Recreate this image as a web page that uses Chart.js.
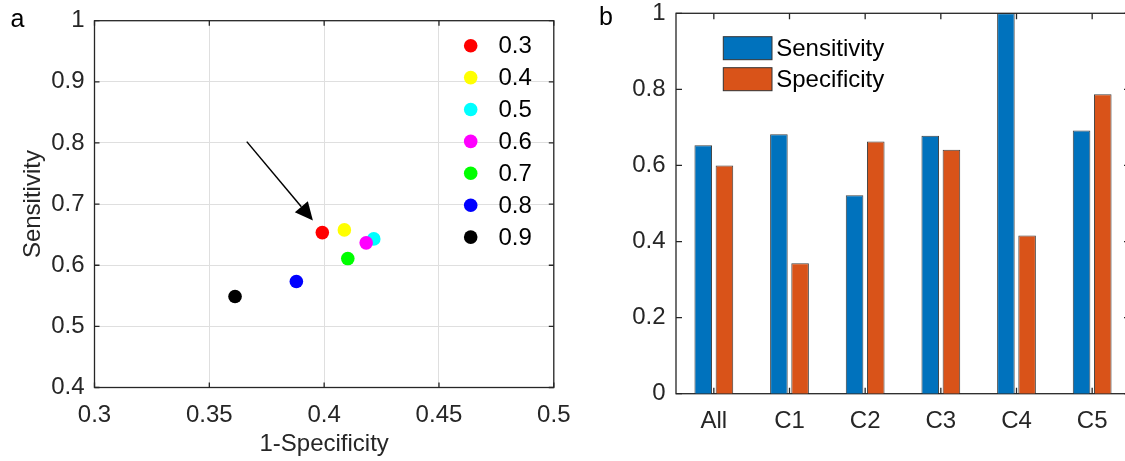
<!DOCTYPE html>
<html>
<head>
<meta charset="utf-8">
<script src="https://cdn.jsdelivr.net/npm/chart.js@4.4.1/dist/chart.umd.min.js"></script>
<style>
  html, body { margin: 0; padding: 0; background: #fff; width: 1125px; height: 461px; overflow: hidden; }
  #wrap { position: relative; width: 1125px; height: 461px; overflow: hidden; }
  canvas { position: absolute; top: 0; }
  #c1 { left: 0; }
  #c2 { left: 580px; }
</style>
</head>
<body>
<div id="wrap">
  <canvas id="c1" width="580" height="461"></canvas>
  <canvas id="c2" width="560" height="461"></canvas>
</div>
<script>
// ---------- Panel a data ----------
const thresholds = ['0.3', '0.4', '0.5', '0.6', '0.7', '0.8', '0.9'];
const oneMinusSpec = [0.3992, 0.4088, 0.4216, 0.4183, 0.4103, 0.3879, 0.3612];
const sensitivityA = [0.6534, 0.6578, 0.6431, 0.6366, 0.6109, 0.5733, 0.5488];
const pointColors = ['#ff0000', '#ffff00', '#00ffff', '#ff00ff', '#00ff00', '#0000ff', '#000000'];
const xTicksA = [0.3, 0.35, 0.4, 0.45, 0.5];
const yTicksA = [0.4, 0.5, 0.6, 0.7, 0.8, 0.9, 1];
const arrowFrom = [0.3663, 0.8022];
const arrowTo = [0.3951, 0.673];

// ---------- Panel b data ----------
const groups = ['All', 'C1', 'C2', 'C3', 'C4', 'C5'];
const sensitivityB = [0.653, 0.682, 0.522, 0.678, 1.0, 0.692];
const specificityB = [0.600, 0.343, 0.663, 0.641, 0.416, 0.787];
const seriesNames = ['Sensitivity', 'Specificity'];
const seriesColors = ['#0072BD', '#D95319'];
const yTicksB = [0, 0.2, 0.4, 0.6, 0.8, 1];

const FONT = "'Liberation Sans', Arial, Helvetica, sans-serif";
const FS = 24;
const AXIS = '#262626';

function fixX(h) {
  return s => { s.height = h; s.paddingLeft = 0; s.paddingRight = 0; s.paddingTop = 0; s.paddingBottom = 0; };
}
function fixY(w) {
  return s => { s.width = w; s.paddingLeft = 0; s.paddingRight = 0; s.paddingTop = 0; s.paddingBottom = 0; };
}

function frameTicksPlugin(id, len, panelLabel, labelPos) {
  return {
    id: id,
    beforeDatasetsDraw(chart) {
      const ctx = chart.ctx, a = chart.chartArea;
      const xs = chart.scales.x, ys = chart.scales.y;
      ctx.save();
      ctx.strokeStyle = AXIS;
      ctx.lineWidth = 1.3;
      ctx.beginPath();
      xs.ticks.forEach((t, i) => {
        const px = xs.getPixelForTick(i);
        ctx.moveTo(px, a.bottom); ctx.lineTo(px, a.bottom - len);
        ctx.moveTo(px, a.top); ctx.lineTo(px, a.top + len);
      });
      ys.ticks.forEach((t, i) => {
        const py = ys.getPixelForTick(i);
        ctx.moveTo(a.left, py); ctx.lineTo(a.left + len, py);
        ctx.moveTo(a.right, py); ctx.lineTo(a.right - len, py);
      });
      ctx.stroke();
      ctx.strokeRect(a.left, a.top, a.right - a.left, a.bottom - a.top);
      ctx.restore();
    },
    afterDraw(chart) {
      const ctx = chart.ctx;
      ctx.save();
      ctx.fillStyle = '#000';
      ctx.font = '25px ' + FONT;
      ctx.textAlign = 'center';
      ctx.textBaseline = 'middle';
      ctx.fillText(panelLabel, labelPos[0], labelPos[1]);
      ctx.restore();
    }
  };
}

// ---------- Chart a ----------
const arrowLegendPlugin = {
  id: 'arrowLegend',
  afterDatasetsDraw(chart) {
    const ctx = chart.ctx;
    const xs = chart.scales.x, ys = chart.scales.y;
    const x0 = xs.getPixelForValue(arrowFrom[0]), y0 = ys.getPixelForValue(arrowFrom[1]);
    const x1 = xs.getPixelForValue(arrowTo[0]), y1 = ys.getPixelForValue(arrowTo[1]);
    const ang = Math.atan2(y1 - y0, x1 - x0);
    const hl = 18, hw = 8.5;
    const bx = x1 - hl * Math.cos(ang), by = y1 - hl * Math.sin(ang);
    ctx.save();
    ctx.strokeStyle = '#000';
    ctx.fillStyle = '#000';
    ctx.lineWidth = 1.5;
    ctx.beginPath();
    ctx.moveTo(x0, y0); ctx.lineTo(bx, by); ctx.stroke();
    ctx.beginPath();
    ctx.moveTo(x1, y1);
    ctx.lineTo(bx + hw * Math.sin(ang), by - hw * Math.cos(ang));
    ctx.lineTo(bx - hw * Math.sin(ang), by + hw * Math.cos(ang));
    ctx.closePath(); ctx.fill();
    ctx.font = FS + 'px ' + FONT;
    ctx.textAlign = 'left';
    ctx.textBaseline = 'middle';
    chart.data.datasets.forEach((ds, i) => {
      const cy = 45.7 + i * 31.9;
      ctx.fillStyle = ds.backgroundColor;
      ctx.beginPath(); ctx.arc(470.7, cy, 6.8, 0, Math.PI * 2); ctx.fill();
      ctx.fillStyle = '#000';
      ctx.fillText(ds.label, 498.5, cy + 1);
    });
    ctx.restore();
  }
};

new Chart(document.getElementById('c1'), {
  type: 'scatter',
  data: {
    datasets: thresholds.map((t, i) => ({
      label: t,
      data: [{ x: oneMinusSpec[i], y: sensitivityA[i] }],
      backgroundColor: pointColors[i],
      borderColor: pointColors[i],
      borderWidth: 0,
      pointRadius: 6.8,
      order: -i
    }))
  },
  options: {
    responsive: false,
    animation: false,
    devicePixelRatio: 1,
    layout: { padding: { left: 0, top: 20.7, right: 26.2, bottom: 0 } },
    plugins: { legend: { display: false }, tooltip: { enabled: false } },
    scales: {
      x: {
        type: 'linear', min: 0.3, max: 0.5,
        afterBuildTicks: s => { s.ticks = xTicksA.map(v => ({ value: v })); },
        afterFit: fixX(73.5),
        grid: { color: '#dfdfdf', lineWidth: 1, drawTicks: false },
        border: { display: false },
        ticks: { padding: 13, color: AXIS, font: { family: FONT, size: FS }, callback: v => String(v) },
        title: { display: true, text: '1-Specificity', color: AXIS, font: { family: FONT, size: FS, lineHeight: 1.2 }, padding: { top: 0, bottom: 2 } }
      },
      y: {
        type: 'linear', min: 0.4, max: 1,
        afterBuildTicks: s => { s.ticks = yTicksA.map(v => ({ value: v })); },
        afterFit: fixY(94.5),
        grid: { color: '#dfdfdf', lineWidth: 1, drawTicks: false },
        border: { display: false },
        ticks: { padding: 10, color: AXIS, font: { family: FONT, size: FS }, callback: v => String(v) },
        title: { display: true, text: 'Sensitivity', color: AXIS, font: { family: FONT, size: FS, lineHeight: 1.2 }, padding: { top: 19, bottom: 0 } }
      }
    }
  },
  plugins: [frameTicksPlugin('frameA', 5, 'a', [17.5, 20]), arrowLegendPlugin]
});

// ---------- Chart b ----------
const barLegendPlugin = {
  id: 'barLegend',
  afterDatasetsDraw(chart) {
    const ctx = chart.ctx;
    ctx.save();
    ctx.font = FS + 'px ' + FONT;
    ctx.textAlign = 'left';
    ctx.textBaseline = 'middle';
    chart.data.datasets.forEach((ds, i) => {
      const top = 36.7 + i * 31;
      ctx.fillStyle = ds.backgroundColor;
      ctx.fillRect(143.3, top, 48.7, 23);
      ctx.strokeStyle = '#333';
      ctx.lineWidth = 1;
      ctx.strokeRect(143.3, top, 48.7, 23);
      ctx.fillStyle = '#000';
      ctx.fillText(ds.label, 196.2, top + 12.5);
    });
    ctx.restore();
  }
};

new Chart(document.getElementById('c2'), {
  type: 'bar',
  data: {
    labels: groups,
    datasets: [
      { label: seriesNames[0], data: sensitivityB, backgroundColor: seriesColors[0] },
      { label: seriesNames[1], data: specificityB, backgroundColor: seriesColors[1] }
    ].map(d => Object.assign(d, {
      borderColor: 'rgba(30,30,30,0.85)', borderWidth: 1, borderSkipped: 'bottom',
      barPercentage: 0.83, categoryPercentage: 0.56
    }))
  },
  options: {
    responsive: false,
    animation: false,
    devicePixelRatio: 1,
    layout: { padding: { left: 0, top: 13.3, right: 10, bottom: 0 } },
    plugins: { legend: { display: false }, tooltip: { enabled: false } },
    scales: {
      x: {
        afterFit: fixX(67.3),
        grid: { display: false, drawTicks: false },
        border: { display: false },
        ticks: { padding: 13, color: AXIS, font: { family: FONT, size: FS } }
      },
      y: {
        type: 'linear', min: 0, max: 1,
        afterBuildTicks: s => { s.ticks = yTicksB.map(v => ({ value: v })); },
        afterFit: fixY(96),
        grid: { display: false, drawTicks: false },
        border: { display: false },
        ticks: { padding: 10.5, color: AXIS, font: { family: FONT, size: FS }, callback: v => String(v) }
      }
    }
  },
  plugins: [frameTicksPlugin('frameB', 6, 'b', [26, 18]), barLegendPlugin]
});
</script>
</body>
</html>
